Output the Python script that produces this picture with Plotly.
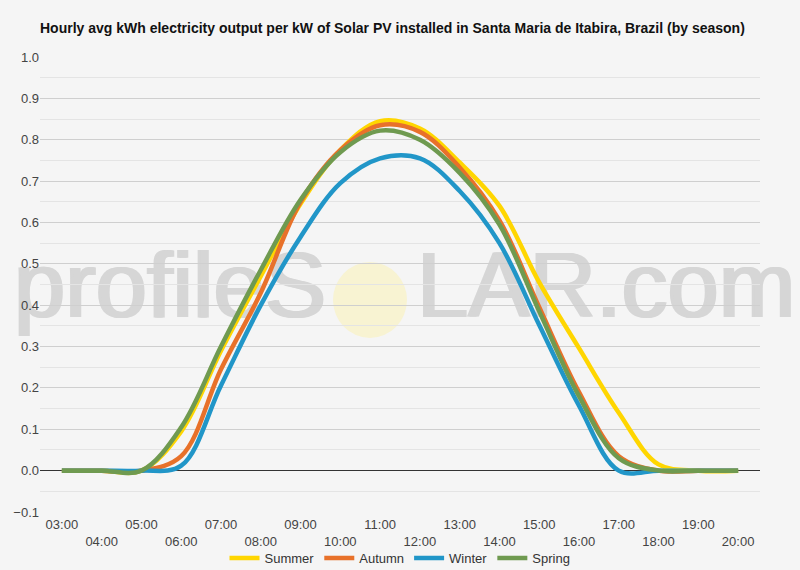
import plotly.graph_objects as go

hours = ["03:00", "04:00", "05:00", "06:00", "07:00", "08:00", "09:00", "10:00", "11:00",
         "12:00", "13:00", "14:00", "15:00", "16:00", "17:00", "18:00", "19:00", "20:00"]

summer = [0, 0, 0, 0.095, 0.29, 0.47, 0.645, 0.775, 0.845, 0.827, 0.745, 0.64, 0.455, 0.296, 0.14, 0.015, 0, 0]
autumn = [0, 0, 0, 0.035, 0.245, 0.43, 0.65, 0.775, 0.835, 0.819, 0.733, 0.605, 0.395, 0.19, 0.035, 0, 0, 0]
winter = [0, 0, 0, 0.012, 0.206, 0.40, 0.565, 0.695, 0.755, 0.755, 0.676, 0.55, 0.352, 0.157, 0, 0, 0, 0]
spring = [0, 0, 0, 0.105, 0.30, 0.485, 0.655, 0.77, 0.822, 0.80, 0.72, 0.595, 0.385, 0.18, 0.03, 0, 0, 0]

series = [
    ("Summer", summer, "#FFD600"),
    ("Autumn", autumn, "#E8712A"),
    ("Winter", winter, "#2196C8"),
    ("Spring", spring, "#6F9A50"),
]

title_text = "Hourly avg kWh electricity output per kW of Solar PV installed in Santa Maria de Itabira, Brazil (by season)"
y_ticks = [-0.1, 0.0, 0.1, 0.2, 0.3, 0.4, 0.5, 0.6, 0.7, 0.8, 0.9, 1.0]

W, H = 800, 570
L, R, T, B = 40, 40, 57, 58

fig = go.Figure()
for name, vals, col in series:
    fig.add_trace(go.Scatter(
        x=hours, y=vals, name=name, mode="lines",
        line=dict(color=col, width=4.5, shape="spline", smoothing=1.0),
        hoverinfo="skip",
    ))

tick_text = [h if i % 2 == 0 else "<br>" + h for i, h in enumerate(hours)]

def px_x(p):
    return (p - L) / (W - L - R)

def px_y(p):
    return (H - B - p) / (H - T - B)

wm_font = dict(size=92, color="#d6d6d6", family="Liberation Sans, Arial")
shapes = [
    # sun circle of the watermark
    dict(type="circle", xref="paper", yref="paper", layer="below",
         x0=px_x(333), x1=px_x(407), y0=px_y(338), y1=px_y(262),
         fillcolor="#f8f3d2", line=dict(width=0)),
]
# watermark text (drawn with small offsets to get heavier strokes)
for dx in (-1.5, 0, 1.5):
    shapes.append(dict(type="rect", xref="paper", yref="paper", layer="below",
                       x0=px_x(0 + dx), x1=px_x(332 + dx), y0=px_y(326), y1=px_y(226),
                       line=dict(width=0), fillcolor="rgba(0,0,0,0)",
                       label=dict(text="profileS", font=wm_font, textposition="middle right")))
    shapes.append(dict(type="rect", xref="paper", yref="paper", layer="below",
                       x0=px_x(411 + dx), x1=px_x(795 + dx), y0=px_y(326), y1=px_y(226),
                       line=dict(width=0), fillcolor="rgba(0,0,0,0)",
                       label=dict(text="LAR.com", font=wm_font, textposition="middle left")))

fig.update_layout(
    width=W, height=H,
    margin=dict(l=L, r=R, t=T, b=B, autoexpand=False),
    paper_bgcolor="#f5f5f5", plot_bgcolor="#f5f5f5",
    font=dict(family="Liberation Sans, Arial, sans-serif", size=13, color="#444"),
    title=dict(text="<b>" + title_text + "</b>", x=0.05, xanchor="left", xref="container",
               y=1 - 28 / H, yanchor="middle", yref="container",
               font=dict(size=14, color="#111")),
    showlegend=True,
    legend=dict(orientation="h", x=0.5, xanchor="center", xref="container",
                y=(H - 558) / H, yanchor="middle", yref="container",
                font=dict(size=13, color="#333"), bgcolor="rgba(0,0,0,0)",
                itemwidth=30, tracegroupgap=0),
    xaxis=dict(type="category", categoryorder="array", categoryarray=hours,
               tickmode="array", tickvals=hours, ticktext=tick_text,
               showgrid=False, zeroline=False, showline=False, ticks="",
               ticklabelstandoff=3,
               tickfont=dict(size=13, color="#444"), range=[-0.55, 17.55]),
    yaxis=dict(range=[-0.1, 1.0], tickmode="array", tickvals=y_ticks,
               tickformat=".1f", showgrid=True, gridcolor="#cfcfcf", gridwidth=1,
               zeroline=True, zerolinecolor="#333", zerolinewidth=1,
               showline=False, ticks="", tickfont=dict(size=13, color="#444"),
               minor=dict(dtick=0.05, tick0=0, showgrid=True, gridcolor="#e4e4e4", gridwidth=1)),
    shapes=shapes,
)

fig.write_html("out.html")
